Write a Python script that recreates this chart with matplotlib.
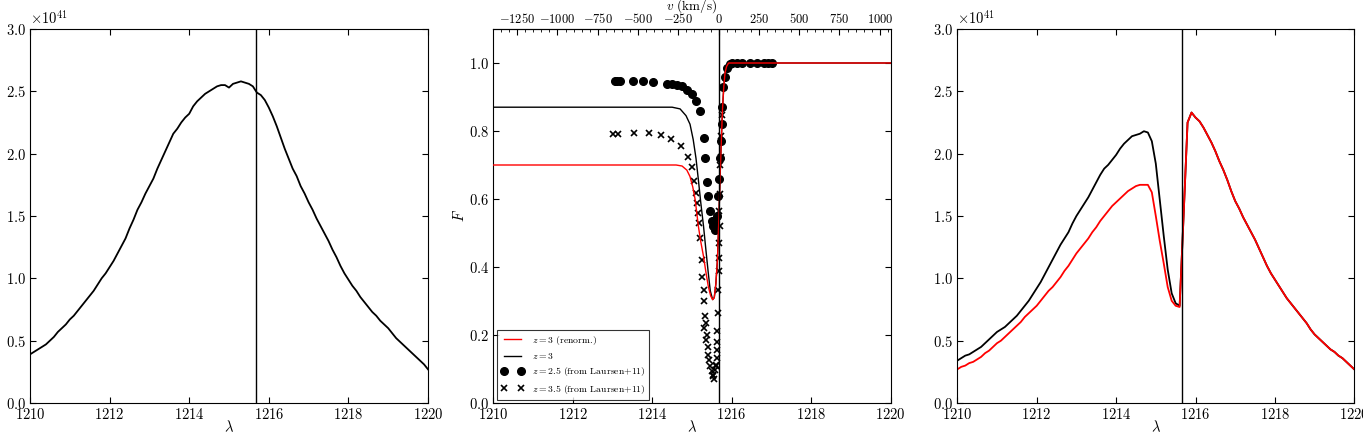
import numpy as np
import matplotlib
matplotlib.use('Agg')
from matplotlib import pyplot as plt
from matplotlib.ticker import MultipleLocator

plt.rcParams['font.family'] = 'serif'
plt.rcParams['font.serif'] = ['cmr10', 'DejaVu Serif']
plt.rcParams['mathtext.fontset'] = 'cm'
plt.rcParams['axes.formatter.use_mathtext'] = True
plt.rcParams['font.size'] = 10.5

LYA = 1215.67
C_KMS = 299792.458

# wavelength bins (0.1 A)
lam_bins = np.round(np.linspace(1210, 1220, 101), 1)

# intrinsic spectrum, units of 1e41
spec_intr = [0.39, 0.41, 0.43, 0.45, 0.47, 0.50, 0.53, 0.57, 0.60, 0.63,
             0.67, 0.70, 0.74, 0.78, 0.82, 0.86, 0.90, 0.95, 1.00, 1.04,
             1.09, 1.14, 1.20, 1.26, 1.32, 1.40, 1.47, 1.55, 1.61, 1.68,
             1.74, 1.80, 1.88, 1.95, 2.02, 2.09, 2.16, 2.20, 2.25, 2.29,
             2.32, 2.38, 2.42, 2.45, 2.48, 2.50, 2.52, 2.54, 2.55, 2.55,
             2.53, 2.56, 2.57, 2.58, 2.57, 2.56, 2.54, 2.49, 2.47, 2.43,
             2.37, 2.30, 2.22, 2.13, 2.04, 1.96, 1.88, 1.82, 1.74, 1.68,
             1.61, 1.55, 1.48, 1.42, 1.36, 1.30, 1.23, 1.17, 1.10, 1.04,
             0.99, 0.94, 0.90, 0.85, 0.81, 0.77, 0.73, 0.70, 0.66, 0.63,
             0.60, 0.56, 0.52, 0.49, 0.46, 0.43, 0.40, 0.37, 0.34, 0.31,
             0.27]

# transmitted spectrum z=3
spec_z3 = [0.34, 0.36, 0.38, 0.39, 0.41, 0.43, 0.45, 0.48, 0.51, 0.54,
           0.57, 0.59, 0.61, 0.64, 0.67, 0.70, 0.74, 0.78, 0.82, 0.87,
           0.92, 0.97, 1.03, 1.09, 1.15, 1.21, 1.27, 1.32, 1.37, 1.44,
           1.50, 1.55, 1.60, 1.65, 1.71, 1.77, 1.83, 1.88, 1.91, 1.95,
           1.99, 2.04, 2.08, 2.11, 2.14, 2.15, 2.16, 2.18, 2.17, 2.10,
           1.92, 1.63, 1.34, 1.07, 0.88, 0.80, 0.78, 1.50, 2.25, 2.33,
           2.29, 2.26, 2.21, 2.15, 2.09, 2.02, 1.94, 1.87, 1.79, 1.70,
           1.62, 1.56, 1.49, 1.43, 1.37, 1.31, 1.24, 1.17, 1.10, 1.04,
           0.99, 0.94, 0.89, 0.84, 0.80, 0.76, 0.72, 0.68, 0.64, 0.59,
           0.55, 0.52, 0.49, 0.46, 0.43, 0.41, 0.38, 0.36, 0.33, 0.30,
           0.27]

# renormalised, blue side only (1210.0 - 1215.6), red side same as z=3
spec_renorm_blue = [0.27, 0.29, 0.30, 0.32, 0.33, 0.35, 0.37, 0.40, 0.42, 0.45,
                    0.48, 0.50, 0.53, 0.56, 0.59, 0.62, 0.65, 0.69, 0.72, 0.75,
                    0.78, 0.82, 0.86, 0.90, 0.93, 0.97, 1.01, 1.06, 1.10, 1.15,
                    1.20, 1.24, 1.28, 1.32, 1.37, 1.41, 1.46, 1.50, 1.54, 1.58,
                    1.61, 1.64, 1.67, 1.70, 1.72, 1.74, 1.75, 1.75, 1.75, 1.69,
                    1.50, 1.30, 1.12, 0.93, 0.82, 0.78, 0.77]
spec_renorm = spec_renorm_blue + spec_z3[len(spec_renorm_blue):]

# transmission curves
lam_T_z3 = [1210.0, 1214.5, 1214.7, 1214.85, 1214.95, 1215.03, 1215.1, 1215.16,
            1215.22, 1215.29, 1215.35, 1215.41, 1215.46, 1215.52, 1215.56, 1215.6,
            1215.64, 1215.67, 1215.71, 1215.74, 1215.77, 1215.8, 1215.83, 1215.87,
            1215.92, 1220.0]
T_z3 = [0.87, 0.87, 0.865, 0.845, 0.82, 0.775, 0.72, 0.657,
        0.59, 0.52, 0.45, 0.382, 0.33, 0.304, 0.31, 0.35,
        0.42, 0.52, 0.676, 0.78, 0.87, 0.93, 0.97, 0.99,
        1.0, 1.0]
lam_T_renorm = [1210.0, 1214.6, 1214.75, 1214.87, 1214.95, 1215.02, 1215.08, 1215.16,
                1215.22, 1215.29, 1215.35, 1215.41, 1215.47, 1215.52, 1215.56, 1215.6,
                1215.64, 1215.67, 1215.71, 1215.74, 1215.77, 1215.8, 1215.83, 1215.87,
                1215.92, 1220.0]
T_renorm = [0.70, 0.70, 0.697, 0.685, 0.666, 0.635, 0.598, 0.52,
            0.475, 0.431, 0.385, 0.343, 0.315, 0.304, 0.31, 0.35,
            0.42, 0.52, 0.676, 0.78, 0.87, 0.93, 0.97, 0.99,
            1.0, 1.0]

# Laursen+11 points
lam_l11_z25 = [1213.05, 1213.12, 1213.20, 1213.52, 1213.76, 1214.01, 1214.36, 1214.50,
               1214.62, 1214.74, 1214.87, 1214.99, 1215.10, 1215.20, 1215.29, 1215.33,
               1215.37, 1215.41, 1215.45, 1215.50, 1215.54, 1215.58, 1215.56, 1215.62,
               1215.66, 1215.69, 1215.71, 1215.72, 1215.75, 1215.76, 1215.79, 1215.83,
               1215.89, 1215.96, 1216.00, 1216.13, 1216.25, 1216.46, 1216.63, 1216.80,
               1216.92, 1217.01]
F_l11_z25 = [0.946, 0.946, 0.946, 0.946, 0.948, 0.943, 0.939, 0.937,
             0.935, 0.931, 0.921, 0.91, 0.888, 0.858, 0.78, 0.72,
             0.65, 0.61, 0.564, 0.535, 0.52, 0.51, 0.53, 0.55,
             0.61, 0.66, 0.72, 0.77, 0.82, 0.87, 0.93, 0.96,
             0.985, 0.998, 1.0, 1.0, 0.999, 1.0, 1.0, 1.0,
             1.0, 1.0]
lam_l11_z35 = [1213.02, 1213.15, 1213.55, 1213.92, 1214.23, 1214.47, 1214.72, 1214.91,
               1215.00, 1215.06, 1215.10, 1215.13, 1215.15, 1215.17, 1215.20, 1215.25,
               1215.26, 1215.29, 1215.30, 1215.33, 1215.35, 1215.31, 1215.37, 1215.34,
               1215.40, 1215.41, 1215.44, 1215.45, 1215.50, 1215.52, 1215.54, 1215.56,
               1215.58, 1215.60, 1215.61, 1215.62, 1215.62, 1215.62, 1215.62, 1215.65,
               1215.66, 1215.67, 1215.69, 1215.69, 1215.71, 1215.69, 1215.71, 1215.71,
               1215.72, 1215.72, 1215.75]
F_l11_z35 = [0.792, 0.792, 0.795, 0.795, 0.787, 0.776, 0.756, 0.725,
             0.693, 0.652, 0.618, 0.588, 0.559, 0.529, 0.485, 0.421,
             0.372, 0.333, 0.299, 0.255, 0.235, 0.221, 0.201, 0.186,
             0.166, 0.142, 0.127, 0.108, 0.093, 0.083, 0.078, 0.072,
             0.098, 0.113, 0.108, 0.132, 0.157, 0.18, 0.211, 0.265,
             0.333, 0.387, 0.426, 0.47, 0.52, 0.564, 0.616, 0.70,
             0.725, 0.784, 0.848]


def style_ax(ax):
    ax.tick_params(which='both', direction='in', top=True, right=True, pad=3)
    ax.tick_params(which='major', length=4, width=0.8)
    ax.set_xlim(1210, 1220)
    ax.xaxis.set_major_locator(MultipleLocator(2))
    ax.set_xlabel(r'$\lambda$', labelpad=-2)


fig = plt.figure(figsize=(13.63, 4.33), dpi=100)
W, H = 1363., 433.
ax1 = fig.add_axes([30 / W, 30 / H, 398 / W, 374 / H])
ax2 = fig.add_axes([493.3 / W, 30 / H, 397.4 / W, 374 / H])
ax3 = fig.add_axes([957.3 / W, 30 / H, 397 / W, 374 / H])

# left: intrinsic spectrum
ax1.plot(lam_bins, np.array(spec_intr) * 1e41, color='k', lw=1.3)
ax1.axvline(LYA, color='k', lw=1)
ax1.set_ylim(0, 3e41)
ax1.yaxis.set_major_locator(MultipleLocator(0.5e41))
style_ax(ax1)

# middle: transmission
ax2.plot(lam_T_z3, T_z3, color='k', lw=1.0, label=r'$z=3$', zorder=3)
ax2.plot(lam_T_renorm, T_renorm, color='r', lw=1.0, label=r'$z=3$ (renorm.)', zorder=4)
ax2.plot(lam_l11_z25, F_l11_z25, 'o', color='k', ms=5.5, mec='k',
         label=r'$z=2.5$ (from Laursen+11)', zorder=2)
ax2.plot(lam_l11_z35, F_l11_z35, 'x', color='k', ms=4.5, mew=1.2,
         label=r'$z=3.5$ (from Laursen+11)', zorder=2)
ax2.axvline(LYA, color='k', lw=1, zorder=5)
ax2.set_ylim(0, 1.1)
ax2.yaxis.set_major_locator(MultipleLocator(0.2))
style_ax(ax2)
ax2.tick_params(top=False)
ax2.set_ylabel(r'$F$', labelpad=1)

handles, labels = ax2.get_legend_handles_labels()
order = [1, 0, 2, 3]
leg = ax2.legend([handles[i] for i in order], [labels[i] for i in order],
                 loc='lower left', fontsize=7, numpoints=2, frameon=True,
                 fancybox=False, edgecolor='k', borderaxespad=0.35,
                 handlelength=2.4, labelspacing=0.45)
leg.get_frame().set_linewidth(0.8)

secax = ax2.secondary_xaxis('top', functions=(lambda l: (l - LYA) / LYA * C_KMS,
                                                lambda v: LYA * (1 + v / C_KMS)))
secax.xaxis.set_major_locator(MultipleLocator(250))
secax.xaxis.set_minor_locator(MultipleLocator(50))
secax.tick_params(which='both', direction='in', labelsize=9, pad=2)
secax.tick_params(which='major', length=4)
secax.tick_params(which='minor', length=2)
secax.set_xlabel(r'$v$ (km/s)', labelpad=2, fontsize=9.5)

# right: transmitted spectra
ax3.plot(lam_bins, np.array(spec_z3) * 1e41, color='k', lw=1.3)
ax3.plot(lam_bins, np.array(spec_renorm) * 1e41, color='r', lw=1.3)
ax3.axvline(LYA, color='k', lw=1)
ax3.set_ylim(0, 3e41)
ax3.yaxis.set_major_locator(MultipleLocator(0.5e41))
style_ax(ax3)

fig.savefig('out.png', dpi=100)
